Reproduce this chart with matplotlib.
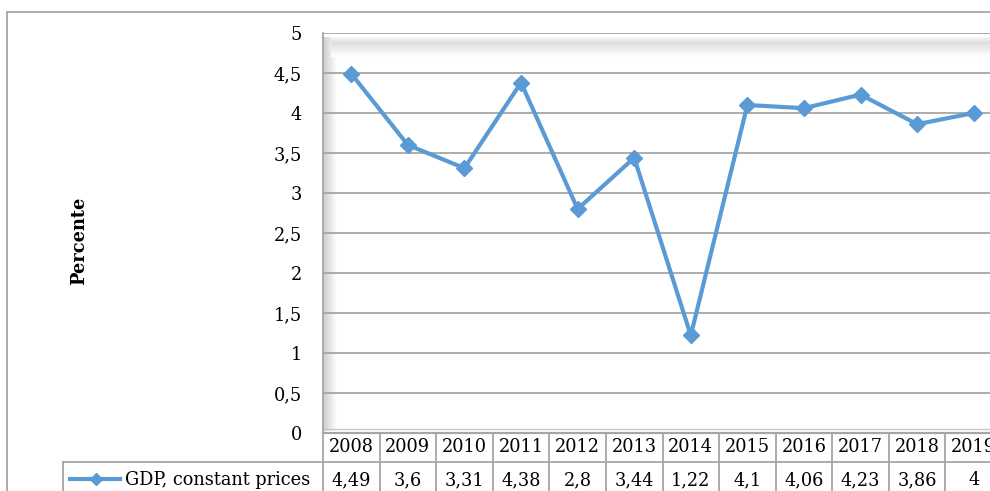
import matplotlib
matplotlib.use('Agg')
import matplotlib.pyplot as plt
import numpy as np
from matplotlib.transforms import blended_transform_factory

years = ['2008', '2009', '2010', '2011', '2012', '2013', '2014', '2015', '2016', '2017', '2018', '2019']
gdp = [4.49, 3.6, 3.31, 4.38, 2.8, 3.44, 1.22, 4.1, 4.06, 4.23, 3.86, 4.0]
gdp_labels = ['4,49', '3,6', '3,31', '4,38', '2,8', '3,44', '1,22', '4,1', '4,06', '4,23', '3,86', '4']
y_ticks = [0, 0.5, 1, 1.5, 2, 2.5, 3, 3.5, 4, 4.5, 5]
y_tick_labels = ['0', '0,5', '1', '1,5', '2', '2,5', '3', '3,5', '4', '4,5', '5']
series_name = 'GDP, constant prices'

W, H = 990, 491
BLUE = '#5B9BD5'
GRID = '#A6A6A6'
FS = 12.8
plt.rcParams['font.family'] = ['DejaVu Serif']

fig = plt.figure(figsize=(W / 100, H / 100), dpi=100)


def fx(x):
    return x / W


def fy(y):
    return 1 - y / H


# plot area in pixels: x 323..1002, y 33..433
ax = fig.add_axes([fx(323), fy(433), fx(1002 - 323), (433 - 33) / H])
x = np.arange(len(years))

# 3D-ish wall shading (left wall and top bevel)
grad = np.linspace(0.80, 1.0, 64)
ax.imshow(np.tile(grad, (2, 1)), cmap='gray', vmin=0, vmax=1, aspect='auto',
          extent=[0, 0.02, 0.005, 0.99], transform=ax.transAxes, zorder=0)
top = np.concatenate([np.linspace(0.97, 0.87, 16), np.linspace(0.87, 1.0, 40)])
ax.imshow(np.tile(top[:, None], (1, 2)), cmap='gray', vmin=0, vmax=1, aspect='auto',
          origin='upper', extent=[0.012, 1, 0.94, 0.988], transform=ax.transAxes, zorder=0)

for t in y_ticks:
    ax.axhline(t, color=GRID, lw=1.3, zorder=1)

ax.plot(x, gdp, color=BLUE, lw=3, marker='D', ms=8.5, zorder=3)

ax.set_xlim(-0.5, len(years) - 0.5)
ax.set_ylim(0, 5)
ax.set_yticks(y_ticks)
ax.set_yticklabels(y_tick_labels)
ax.tick_params(axis='y', length=0, pad=15, labelsize=FS)
ax.set_xticks([])
for s in ['top', 'right', 'bottom']:
    ax.spines[s].set_visible(False)
ax.spines['left'].set_color(GRID)
ax.spines['left'].set_linewidth(1.3)

ax.set_ylabel('Percente', fontsize=FS, fontweight='bold', labelpad=0)
ax.yaxis.set_label_coords((88 - 323) / 679, 0.48)

# data table below the plot
tr = blended_transform_factory(ax.transData, ax.transAxes)
y_head_top, y_mid, y_bot = 0.0, -0.0725, -0.2
edges = np.arange(len(years) + 1) - 0.5
for e in edges:
    ax.plot([e, e], [y_head_top, y_bot], color=GRID, lw=1.3, transform=tr, clip_on=False)
ax.plot([-0.5, len(years)], [y_mid, y_mid], color=GRID, lw=1.3, transform=tr, clip_on=False)
ax.plot([-0.5, len(years)], [y_head_top, y_head_top], color=GRID, lw=1.6, transform=tr, clip_on=False)
ax.plot([-0.5, len(years)], [0.01, 0.01], color='#C8C8C8', lw=1.0, transform=tr, clip_on=False)
for i, (yr, lab) in enumerate(zip(years, gdp_labels)):
    ax.text(i, -0.036, yr, transform=tr, ha='center', va='center', fontsize=FS, clip_on=False)
    ax.text(i, -0.118, lab, transform=tr, ha='center', va='center', fontsize=FS, clip_on=False)

# row header cell and legend key
fig.add_artist(plt.Line2D([fx(63), fx(323)], [fy(462), fy(462)], color=GRID, lw=1.3))
fig.add_artist(plt.Line2D([fx(63), fx(63)], [fy(462), fy(495)], color=GRID, lw=1.3))
fig.add_artist(plt.Line2D([fx(70), fx(120)], [fy(479), fy(479)], color=BLUE, lw=3))
fig.add_artist(plt.Line2D([fx(96)], [fy(479)], color=BLUE, marker='D', ms=6, lw=0))
fig.text(fx(125), fy(480), series_name, fontsize=FS, ha='left', va='center')

# outer chart border
fig.add_artist(plt.Rectangle((fx(7), fy(500)), fx(1100), (500 - 12) / H, fill=False,
                             edgecolor=GRID, lw=1.3))

fig.savefig('out.png', dpi=100)
plt.close()
